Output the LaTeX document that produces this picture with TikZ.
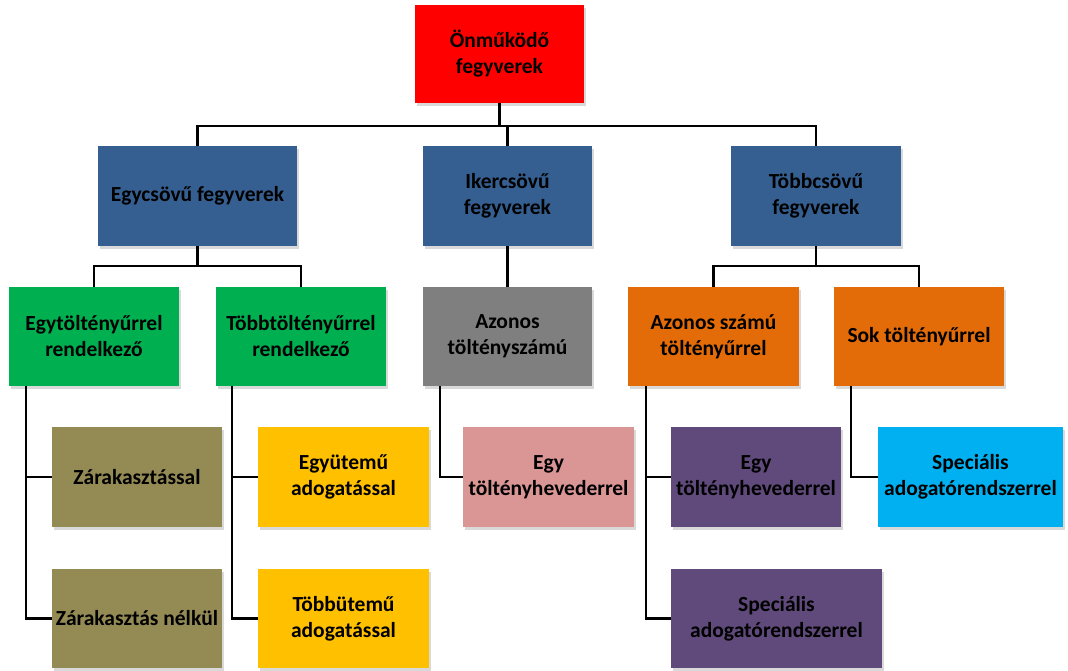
\documentclass[tikz,border=0pt]{standalone}
\usepackage{fontspec}
\setmainfont{Carlito}
\usetikzlibrary{shadows}
\definecolor{cred}{HTML}{FF0000}
\definecolor{cblue}{HTML}{365F91}
\definecolor{cgreen}{HTML}{00B050}
\definecolor{cgray}{HTML}{7F7F7F}
\definecolor{corange}{HTML}{E36C09}
\definecolor{colive}{HTML}{948A54}
\definecolor{cgold}{HTML}{FFC000}
\definecolor{cpink}{HTML}{D99694}
\definecolor{cpurple}{HTML}{604A7B}
\definecolor{ccyan}{HTML}{00B0F0}
\tikzset{
  box/.style={rectangle, inner sep=0pt, align=center, text=black,
    font=\fontsize{21.5}{26}\selectfont\bfseries,
    drop shadow={opacity=0.3, shadow xshift=1.5pt, shadow yshift=-3pt}},
  conn/.style={line width=2.4pt, black},
}
\begin{document}
\begin{tikzpicture}[x=1pt,y=-1pt]
\useasboundingbox (0,0) rectangle (1068,670);
% level 0
\node[box, fill=cred, minimum width=169pt, minimum height=98pt] (root) at (499.5,54) {Önműködő\\fegyverek};
% level 1
\node[box, fill=cblue, minimum width=199pt, minimum height=100pt] (egy) at (197.5,196) {Egycsövű fegyverek};
\node[box, fill=cblue, minimum width=169pt, minimum height=100pt] (iker) at (507.5,196) {Ikercsövű\\fegyverek};
\node[box, fill=cblue, minimum width=170pt, minimum height=100pt] (tobb) at (816,196) {Többcsövű\\fegyverek};
% level 2
\node[box, fill=cgreen, minimum width=170pt, minimum height=99pt] (et) at (94,336.5) {Egytöltényűrrel\\rendelkező};
\node[box, fill=cgreen, minimum width=170pt, minimum height=99pt] (tt) at (301,336.5) {Többtöltényűrrel\\rendelkező};
\node[box, fill=cgray, minimum width=169pt, minimum height=99pt] (azt) at (507.5,336.5) {Azonos\\töltényszámú};
\node[box, fill=corange, minimum width=171pt, minimum height=99pt] (azs) at (713.5,336.5) {Azonos számú\\töltényűrrel};
\node[box, fill=corange, minimum width=170pt, minimum height=99pt] (sok) at (919,336.5) {Sok töltényűrrel};
% level 3
\node[box, fill=colive, minimum width=170pt, minimum height=100pt] (zar) at (137,477) {Zárakasztással};
\node[box, fill=cgold, minimum width=171pt, minimum height=100pt] (egyu) at (343.5,477) {Együtemű\\adogatással};
\node[box, fill=cpink, minimum width=171pt, minimum height=100pt] (heva) at (548.5,477) {Egy\\töltényhevederrel};
\node[box, fill=cpurple, minimum width=170pt, minimum height=100pt] (hevb) at (756,477) {Egy\\töltényhevederrel};
\node[box, fill=ccyan, minimum width=185pt, minimum height=100pt] (speca) at (970.5,477) {Speciális\\adogatórendszerrel};
% level 4
\node[box, fill=colive, minimum width=170pt, minimum height=99pt] (zarn) at (137,618.5) {Zárakasztás nélkül};
\node[box, fill=cgold, minimum width=171pt, minimum height=99pt] (tobbu) at (343.5,618.5) {Többütemű\\adogatással};
\node[box, fill=cpurple, minimum width=211pt, minimum height=99pt] (specb) at (776.5,618.5) {Speciális\\adogatórendszerrel};
% buses
\coordinate (bus1) at (0,126);
\coordinate (bus2) at (0,266);
% connectors level 0-1
\draw[conn] (root.south) -- (root.south |- bus1);
\draw[conn] (egy.north) -- (egy.north |- bus1) -- (tobb.north |- bus1) -- (tobb.north);
\draw[conn] (iker.north) -- (iker.north |- bus1);
% level 1-2
\draw[conn] (egy.south) -- (egy.south |- bus2);
\draw[conn] (et.north) -- (et.north |- bus2) -- (tt.north |- bus2) -- (tt.north);
\draw[conn] (iker.south) -- (azt.north);
\draw[conn] (tobb.south) -- (tobb.south |- bus2);
\draw[conn] (azs.north) -- (azs.north |- bus2) -- (sok.north |- bus2) -- (sok.north);
% level 2-3/4
\draw[conn] ([xshift=17pt]et.south west) |- (zar.west);
\draw[conn] ([xshift=17pt]et.south west) |- (zarn.west);
\draw[conn] ([xshift=16pt]tt.south west) |- (egyu.west);
\draw[conn] ([xshift=16pt]tt.south west) |- (tobbu.west);
\draw[conn] ([xshift=17pt]azt.south west) |- (heva.west);
\draw[conn] ([xshift=18pt]azs.south west) |- (hevb.west);
\draw[conn] ([xshift=18pt]azs.south west) |- (specb.west);
\draw[conn] ([xshift=17pt]sok.south west) |- (speca.west);
\end{tikzpicture}
\end{document}
